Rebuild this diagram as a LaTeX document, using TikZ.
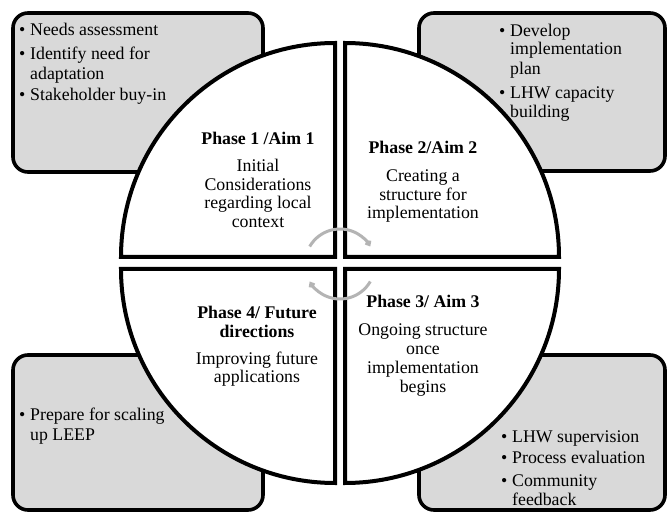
\documentclass[tikz,border=0pt]{standalone}
\usepackage{fontspec}
\setmainfont{Liberation Serif}
\usetikzlibrary{arrows.meta}
\definecolor{boxgray}{HTML}{D9D9D9}
\definecolor{arcgray}{HTML}{B4B4B4}
\tikzset{
  pbox/.style={draw=black, line width=3.6pt, fill=boxgray, rounded corners=15pt},
  quad/.style={draw=black, line width=4pt, fill=white, line join=miter},
  cyc/.style={draw=arcgray, line width=3pt, -{Straight Barb[length=3pt,width=5pt]}},
  ln/.style={anchor=base, inner sep=0pt, font=\fontsize{17.8}{20}\selectfont},
  lnw/.style={anchor=base west, inner sep=0pt, font=\fontsize{17.8}{20}\selectfont},
  ttl/.style={anchor=base, inner sep=0pt, font=\fontsize{17.8}{20}\selectfont\bfseries},
}
\begin{document}
\begin{tikzpicture}[x=1pt,y=-1pt]
\useasboundingbox (0,0) rectangle (667,513);
% grey boxes
\draw[pbox] (13,13) rectangle (263,172);
\draw[pbox] (419,13) rectangle (665,171);
\draw[pbox] (13,355) rectangle (263,510);
\draw[pbox] (419,355) rectangle (665,510);
% quadrants
\draw[quad] (335,257) -- ++(-214,0) arc[start angle=180, end angle=270, radius=214] -- cycle;
\draw[quad] (345,257) -- ++(0,-214) arc[start angle=270, end angle=360, radius=214] -- cycle;
\draw[quad] (345,269) -- ++(214,0) arc[start angle=0, end angle=90, radius=214] -- cycle;
\draw[quad] (335,269) -- ++(0,214) arc[start angle=90, end angle=180, radius=214] -- cycle;
% cycle arcs
\coordinate (cc) at (340,264);
\draw[cyc] ([shift={(210:35)}]cc) arc[start angle=210, end angle=330, radius=35];
\draw[cyc] ([shift={(30:35)}]cc) arc[start angle=30, end angle=150, radius=35];
% top-left box text
\node[lnw] (a1b) at (19,36) {•};
\node[lnw] (a1) at (30,36) {Needs assessment};
\node[lnw] (a2b) at (19,60) {•};
\node[lnw] (a2) at (30,60) {Identify need for};
\node[lnw] (a2c) at (30,80) {adaptation};
\node[lnw] (a3b) at (19,101) {•};
\node[lnw] (a3) at (30,101) {Stakeholder buy-in};
% top-right box text
\node[lnw] (b1b) at (499,37) {•};
\node[lnw] (b1) at (510,37) {Develop};
\node[lnw] (b1c) at (510,55) {implementation};
\node[lnw] (b1d) at (510,75) {plan};
\node[lnw] (b2b) at (499,99) {•};
\node[lnw] (b2) at (510,99) {LHW capacity};
\node[lnw] (b2c) at (510,118) {building};
% bottom-left box text
\node[lnw] (c1b) at (19,420) {•};
\node[lnw] (c1) at (30,420) {Prepare for scaling};
\node[lnw] (c1c) at (30,440) {up LEEP};
% bottom-right box text
\node[lnw] (d1b) at (501,442) {•};
\node[lnw] (d1) at (512,442) {LHW supervision};
\node[lnw] (d2b) at (501,463) {•};
\node[lnw] (d2) at (512,463) {Process evaluation};
\node[lnw] (d3b) at (501,486) {•};
\node[lnw] (d3) at (512,486) {Community};
\node[lnw] (d3c) at (512,505) {feedback};
% quadrant texts
\node[ttl] (p1) at (258,145) {Phase 1 /Aim 1};
\node[ln] (p1a) at (258,172) {Initial};
\node[ln] (p1b) at (258,191) {Considerations};
\node[ln] (p1c) at (258,209) {regarding local};
\node[ln] (p1d) at (258,228) {context};
\node[ttl] (p2) at (423,154) {Phase 2/Aim 2};
\node[ln] (p2a) at (423,182) {Creating a};
\node[ln] (p2b) at (423,201) {structure for};
\node[ln] (p2c) at (423,219) {implementation};
\node[ttl] (p4) at (257,318) {Phase 4/ Future};
\node[ttl] (p4x) at (257,337) {directions};
\node[ln] (p4a) at (257,364) {Improving future};
\node[ln] (p4b) at (257,382) {applications};
\node[ttl] (p3) at (423,308) {Phase 3/ Aim 3};
\node[ln] (p3a) at (423,335) {Ongoing structure};
\node[ln] (p3b) at (423,354) {once};
\node[ln] (p3c) at (423,373) {implementation};
\node[ln] (p3d) at (423,392) {begins};
\end{tikzpicture}
\end{document}
